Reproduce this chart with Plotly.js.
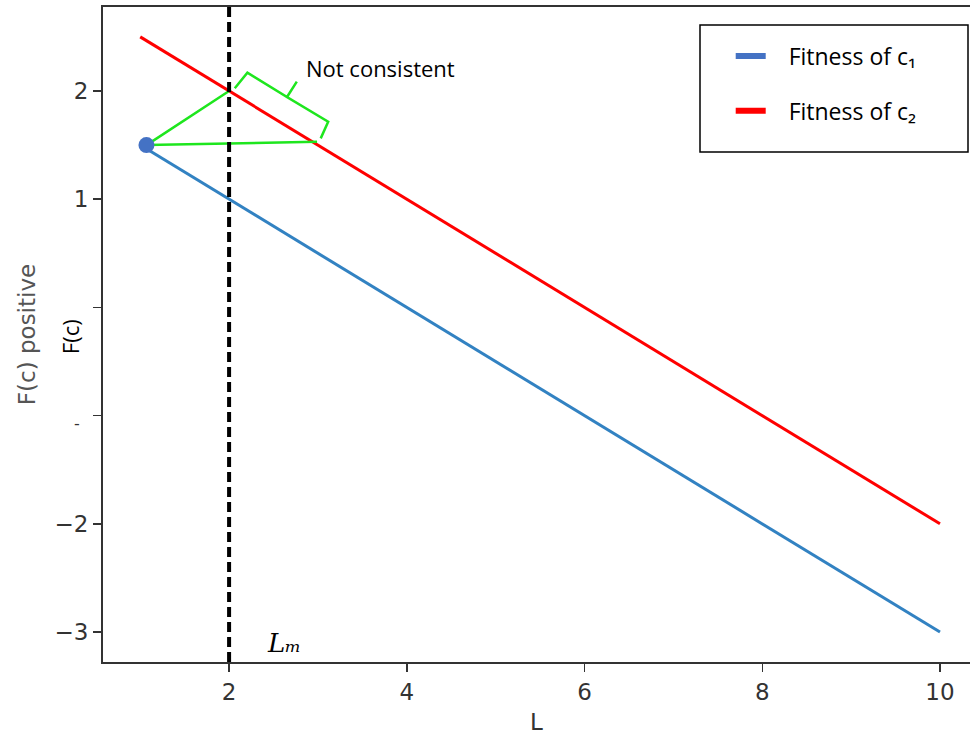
<!DOCTYPE html>
<html>
<head>
<meta charset="utf-8">
<script src="https://cdn.plot.ly/plotly-3.0.1.min.js"></script>
<style>html,body{margin:0;padding:0;background:#fff;}#chart{width:970px;height:735px;}</style>
</head>
<body>
<div id="chart"></div>
<script>
// ---- data ----
const L = [1, 10];
const fitnessC1 = [1.5, -3];
const fitnessC2 = [2.5, -2];
const Lm = 2;
const startDotX = [1.07];
const startDotY = [1.5];
const triangleX = [2, 1.07, 2.99];
const triangleY = [2, 1.5, 1.53];
const braceX = [2.064, 2.206, 2.652, 2.762, 2.652, 3.115, 3.031];
const braceY = [2.025, 2.169, 1.944, 2.086, 1.944, 1.716, 1.562];
const yTickVals = [2, 1, -2, -3];
const yTickText = ['2', '1', '\u22122', '\u22123'];
const yUnlabelledTicks = [0, -1];
const xTickVals = [2, 4, 6, 8, 10];
const xTickText = ['2', '4', '6', '8', '10'];
const legendNames = ['\u00a0\u00a0\u00a0Fitness of c\u2081', '\u00a0\u00a0\u00a0Fitness of c\u2082'];

const traces = [
  {x: L, y: fitnessC1, mode: 'lines', line: {color: '#3282c2', width: 3}, showlegend: false, hoverinfo: 'skip'},
  {x: L, y: fitnessC2, mode: 'lines', line: {color: '#ff0000', width: 3}, showlegend: false, hoverinfo: 'skip'},
  {x: triangleX, y: triangleY, mode: 'lines', line: {color: '#1ee61e', width: 2.5}, showlegend: false, hoverinfo: 'skip'},
  {x: braceX, y: braceY, mode: 'lines', line: {color: '#1ee61e', width: 2.5}, showlegend: false, hoverinfo: 'skip'},
  {x: startDotX, y: startDotY, mode: 'markers', marker: {color: '#4472c4', size: 16}, showlegend: false, hoverinfo: 'skip'},
  {x: [null], y: [null], mode: 'lines', name: legendNames[0], legendgroup: 'a', line: {color: '#4472c4', width: 6}},
  {x: [null], y: [null], mode: 'lines', name: legendNames[1], legendgroup: 'b', line: {color: '#ff0000', width: 6}}
];

const layout = {
  width: 970, height: 735,
  margin: {l: 103, r: 0, t: 7, b: 73},
  paper_bgcolor: '#fff', plot_bgcolor: '#fff',
  showlegend: true,
  xaxis: {
    range: [0.581, 10.338], tickmode: 'array', tickvals: xTickVals, ticktext: xTickText,
    showgrid: false, zeroline: false, showline: true, mirror: true, linecolor: '#333', linewidth: 2,
    ticks: 'outside', ticklen: 8, tickwidth: 1.5, tickcolor: '#333',
    tickfont: {family: 'DejaVu Sans', size: 23, color: '#333'},
    title: {text: 'L', font: {family: 'DejaVu Sans', size: 23, color: '#333'}, standoff: 10}
  },
  yaxis: {
    range: [-3.277, 2.776], tickmode: 'array', tickvals: yTickVals, ticktext: yTickText,
    showgrid: false, zeroline: false, showline: true, mirror: false, linecolor: '#333', linewidth: 2,
    ticks: 'outside', ticklen: 8, tickwidth: 1.5, tickcolor: '#333',
    minor: {tickmode: 'array', tickvals: yUnlabelledTicks, ticks: 'outside', ticklen: 8, tickwidth: 1.5, tickcolor: '#333', showgrid: false},
    tickfont: {family: 'DejaVu Sans', size: 23, color: '#333'},
    title: {text: 'F(c) positive', font: {family: 'DejaVu Sans', size: 23, color: '#555'}, standoff: 12}
  },
  legend: {
    x: 0.724, y: 0.958, xanchor: 'left', yanchor: 'top',
    bgcolor: 'rgba(0,0,0,0)', borderwidth: 0,
    traceorder: 'grouped', tracegroupgap: 22,
    font: {family: 'Open Sans', size: 23, color: '#000'}
  },
  shapes: [
    {type: 'line', xref: 'x', yref: 'paper', x0: Lm, x1: Lm, y0: 0, y1: 1,
     line: {color: '#000', width: 4, dash: '10px,5px'}},
    {type: 'rect', xref: 'paper', yref: 'paper',
     x0: (700 - 103) / 867, x1: (968 - 103) / 867, y0: (662 - 152) / 655, y1: (662 - 25) / 655,
     line: {color: '#000', width: 1.5}, fillcolor: 'rgba(255,255,255,1)', layer: 'below'}
  ],
  annotations: [
    {x: 2.84, y: 2.21, xref: 'x', yref: 'y', xanchor: 'left', yanchor: 'middle', showarrow: false,
     text: 'Not consistent', font: {family: 'Open Sans', size: 22, color: '#000'}},
    {x: 2.4, y: -3.1, xref: 'x', yref: 'y', xanchor: 'left', yanchor: 'middle', showarrow: false,
     text: 'L\u2098', font: {family: 'DejaVu Serif', size: 26, color: '#000', style: 'italic'}},
    {x: -0.038, y: 0.496, xref: 'paper', yref: 'paper', xanchor: 'center', yanchor: 'middle', showarrow: false,
     text: 'F(c)', textangle: -90, font: {family: 'Open Sans', size: 22, color: '#000'}},
    {x: -0.03, y: 0.3634, xref: 'paper', yref: 'paper', xanchor: 'center', yanchor: 'middle', showarrow: false,
     text: '-', font: {family: 'DejaVu Sans', size: 16, color: '#333'}}
  ]
};

Plotly.newPlot('chart', traces, layout, {displayModeBar: false, staticPlot: true});
</script>
</body>
</html>
